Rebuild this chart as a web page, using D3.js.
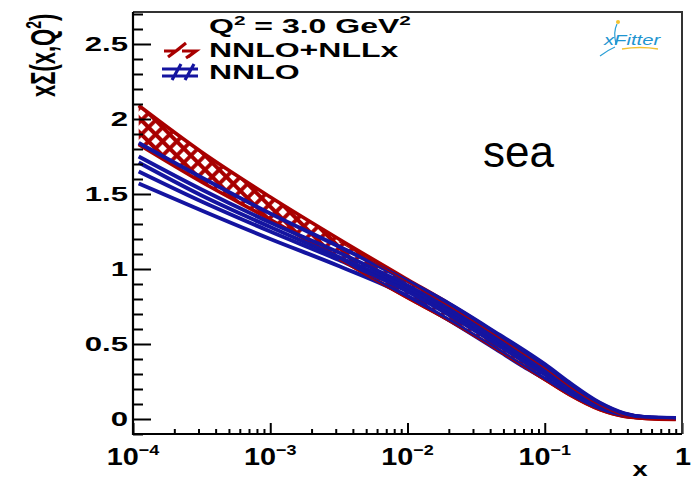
<!DOCTYPE html>
<html>
<head>
<meta charset="utf-8">
<script src="https://cdn.jsdelivr.net/npm/d3@7"></script>
<style>
  html, body { margin: 0; padding: 0; background: #fff; }
  svg { display: block; }
  text { font-family: "Liberation Sans", Arial, Helvetica, sans-serif; }
</style>
</head>
<body>
<svg id="chart" width="693" height="481"></svg>
<script>
// x grid on which the sea-quark distribution is sampled
const xKnots = [1.1e-4, 3.16e-4, 1e-3, 3.16e-3, 1e-2, 2e-2, 4.7e-2, 7e-2, 1e-1, 1.5e-1, 2.5e-1, 3.8e-1, 5.5e-1, 9e-1];

// NNLO+NLLx uncertainty band (upper / lower edge)
const resumUpper = [2.09, 1.78, 1.48, 1.20, 0.93, 0.77, 0.555, 0.45, 0.355, 0.235, 0.108, 0.036, 0.011, 0.006];
const resumLower = [1.83, 1.58, 1.33, 1.07, 0.81, 0.66, 0.455, 0.355, 0.265, 0.165, 0.065, 0.019, 0.007, 0.003];

// NNLO curves (band members)
const nnlo1 = [1.84, 1.61, 1.37, 1.15, 0.92, 0.77, 0.56, 0.46, 0.365, 0.245, 0.110, 0.038, 0.012, 0.006];
const nnlo2 = [1.75, 1.53, 1.31, 1.11, 0.89, 0.74, 0.53, 0.43, 0.340, 0.225, 0.100, 0.034, 0.011, 0.006];
const nnlo3 = [1.71, 1.49, 1.28, 1.08, 0.87, 0.72, 0.51, 0.41, 0.320, 0.210, 0.090, 0.030, 0.010, 0.005];
const nnlo4 = [1.65, 1.45, 1.25, 1.06, 0.85, 0.695, 0.485, 0.385, 0.298, 0.193, 0.083, 0.027, 0.009, 0.005];
const nnlo5 = [1.57, 1.39, 1.20, 1.02, 0.82, 0.66, 0.45, 0.35, 0.268, 0.172, 0.072, 0.022, 0.008, 0.004];

// axis ticks
const yMajor = [0, 0.5, 1, 1.5, 2, 2.5];
const yMajorLabels = ["0", "0.5", "1", "1.5", "2", "2.5"];
const xMajor = [1e-4, 1e-3, 1e-2, 1e-1, 1];
const xMajorExp = ["\u22124", "\u22123", "\u22122", "\u22121", null];

const legendTitle = "Q";
const legendEntries = ["NNLO+NLLx", "NNLO"];

const RED = "#a80000";
const BLUE = "#1414a0";
const SX = 1.6; // horizontal stretch of the ROOT-style text

const svg = d3.select("#chart");
const frameL = 133, frameR = 682, frameT = 12, frameB = 434;

const x = d3.scaleLog().domain([1e-4, 1]).range([frameL, frameR]);
const y = d3.scaleLinear().domain([-0.1, (419 - 12) / 150]).range([frameB, frameT]);

// defs: cross hatch + clip
const defs = svg.append("defs");
const pat = defs.append("pattern")
  .attr("id", "xhatch").attr("patternUnits", "userSpaceOnUse")
  .attr("width", 10).attr("height", 10)
  .attr("patternTransform", "rotate(45)");
pat.append("path").attr("d", "M0,5H10M5,0V10")
  .attr("stroke", RED).attr("stroke-width", 3.8);
defs.append("clipPath").attr("id", "plotclip")
  .append("rect").attr("x", frameL).attr("y", frameT).attr("width", frameR - frameL).attr("height", frameB - frameT);

const plot = svg.append("g").attr("clip-path", "url(#plotclip)");

const line = d3.line().curve(d3.curveMonotoneX);
const pts = vals => xKnots.map((k, i) => [x(k), y(vals[i])]);

// NNLO+NLLx band
const area = d3.area().curve(d3.curveMonotoneX)
  .x((d, i) => x(xKnots[i])).y0((d, i) => y(resumLower[i])).y1((d, i) => y(resumUpper[i]));
plot.append("path").attr("d", area(xKnots)).attr("fill", "url(#xhatch)");
[resumUpper, resumLower].forEach(v => {
  plot.append("path").attr("d", line(pts(v)))
    .attr("fill", "none").attr("stroke", RED).attr("stroke-width", 3.6);
});

// NNLO curves
[nnlo1, nnlo2, nnlo3, nnlo4, nnlo5].forEach(v => {
  plot.append("path").attr("d", line(pts(v)))
    .attr("fill", "none").attr("stroke", BLUE).attr("stroke-width", 4);
});

// thin NNLO+NLLx edges showing through at larger x
const xs = xKnots.map((k, i) => i).filter(i => xKnots[i] >= 3e-3);
[resumUpper, resumLower].forEach((v, j) => {
  plot.append("path").attr("d", line(xs.map(i => [x(xKnots[i]), y(v[i]) + (j ? 1.5 : 2.5)])))
    .attr("fill", "none").attr("stroke", RED).attr("stroke-width", 1.2);
});

// y axis ticks (pointing into the frame)
const yMinor = d3.range(-1, 28).map(i => i / 10).filter(v => !yMajor.some(m => Math.abs(m - v) < 1e-6));
svg.append("g").attr("transform", `translate(${frameL},0)`)
  .call(d3.axisLeft(y).tickValues(yMajor).tickSizeInner(-18).tickSizeOuter(0).tickFormat(""));
svg.append("g").attr("transform", `translate(${frameL},0)`)
  .call(d3.axisLeft(y).tickValues(yMinor).tickSizeInner(-10).tickSizeOuter(0).tickFormat(""));

// x axis ticks
const xMinor = [];
[-4, -3, -2, -1].forEach(e => { for (let m = 2; m <= 9; m++) xMinor.push(m * Math.pow(10, e)); });
svg.append("g").attr("transform", `translate(0,${frameB})`)
  .call(d3.axisBottom(x).tickValues(xMajor).tickSizeInner(-11).tickSizeOuter(0).tickFormat(""));
svg.append("g").attr("transform", `translate(0,${frameB})`)
  .call(d3.axisBottom(x).tickValues(xMinor).tickSizeInner(-5).tickSizeOuter(0).tickFormat(""));

svg.selectAll(".domain").remove();
svg.selectAll(".tick line").attr("stroke", "#000").attr("stroke-width", 2);

// frame
svg.append("path").attr("d", `M${frameL},${frameT}H${frameR}V${frameB}`)
  .attr("fill", "none").attr("stroke", "#333").attr("stroke-width", 2);
svg.append("path").attr("d", `M${frameL},${frameT}V${frameB}H${frameR}`)
  .attr("fill", "none").attr("stroke", "#000").attr("stroke-width", 2.2);

// y tick labels
yMajor.forEach((v, i) => {
  svg.append("text")
    .attr("transform", `translate(128,${y(v) + 7}) scale(${SX},1)`)
    .attr("text-anchor", "end").attr("font-weight", "bold").attr("font-size", 19.5)
    .text(yMajorLabels[i]);
});

// x tick labels
xMajor.forEach((v, i) => {
  const t = svg.append("text")
    .attr("transform", `translate(${x(v) + (xMajorExp[i] ? 0 : 1)},465) scale(1.2,1)`)
    .attr("text-anchor", "middle").attr("font-weight", "bold").attr("font-size", 24);
  if (xMajorExp[i]) {
    t.append("tspan").text("10");
    t.append("tspan").attr("font-size", 15).attr("dy", -10).text(xMajorExp[i]);
  } else {
    t.text("1");
  }
});

// axis titles
svg.append("text")
  .attr("transform", `translate(640,476) scale(1.3,1)`)
  .attr("text-anchor", "middle").attr("font-weight", "bold").attr("font-size", 21)
  .text("x");

const yt = svg.append("text")
  .attr("transform", `translate(55,97) scale(${SX},1) rotate(-90)`)
  .attr("font-weight", "bold").attr("font-size", 22);
yt.append("tspan").text("x\u03a3(x,Q");
yt.append("tspan").attr("font-size", 14).attr("dy", -9).text("2");
yt.append("tspan").attr("dy", 9).text(")");

// legend
const lt = svg.append("text")
  .attr("transform", `translate(209,33) scale(${SX},1)`)
  .attr("font-weight", "bold").attr("font-size", 20);
lt.append("tspan").text(legendTitle);
lt.append("tspan").attr("font-size", 13).attr("dy", -8).text("2");
lt.append("tspan").attr("dy", 8).text(" = 3.0 GeV");
lt.append("tspan").attr("font-size", 13).attr("dy", -8).text("2");

const legendColors = [RED, BLUE];
const legendY = [50, 72];
legendEntries.forEach((name, i) => {
  const cy = legendY[i];
  const g = svg.append("g").attr("stroke", legendColors[i]).attr("stroke-width", 3.2).attr("fill", "none");
  if (i === 0) {
    g.append("path").attr("d", `M164,${cy + 1}H176L168,${cy + 7}M176,${cy + 1}L186,${cy - 7}M182,${cy + 1}H196L188,${cy + 7}M196,${cy + 1}L186,${cy + 8}`);
  } else {
    g.append("path").attr("d", `M162,${cy - 3}H198M162,${cy + 4}H198M172,${cy + 8}L181,${cy - 8}M185,${cy + 8}L194,${cy - 8}`);
  }
  svg.append("text")
    .attr("transform", `translate(209,${legendY[i] + 7}) scale(${SX},1)`)
    .attr("font-weight", "bold").attr("font-size", 20)
    .text(name);
});

// distribution label
svg.append("text").attr("x", 483).attr("y", 167)
  .attr("font-size", 44).text("sea");

// xFitter mark
const logo = svg.append("g");
logo.append("path").attr("d", "M600,56 Q608,50 615,47")
  .attr("stroke", "#2a9fd6").attr("stroke-width", 1.2).attr("fill", "none");
logo.append("path").attr("d", "M616,44 Q613,32 617,24")
  .attr("stroke", "#2a9fd6").attr("stroke-width", 1.2).attr("fill", "none");
logo.append("circle").attr("cx", 618).attr("cy", 22).attr("r", 2).attr("fill", "#f2c230");
logo.append("path").attr("d", "M622,49 Q640,46 658,49")
  .attr("stroke", "#f2c230").attr("stroke-width", 1.4).attr("fill", "none");
logo.append("text")
  .attr("transform", "translate(604,45) scale(1.35,1)")
  .attr("font-style", "italic").attr("font-size", 15).attr("fill", "#1f95d0")
  .text("xFitter");
</script>
</body>
</html>
